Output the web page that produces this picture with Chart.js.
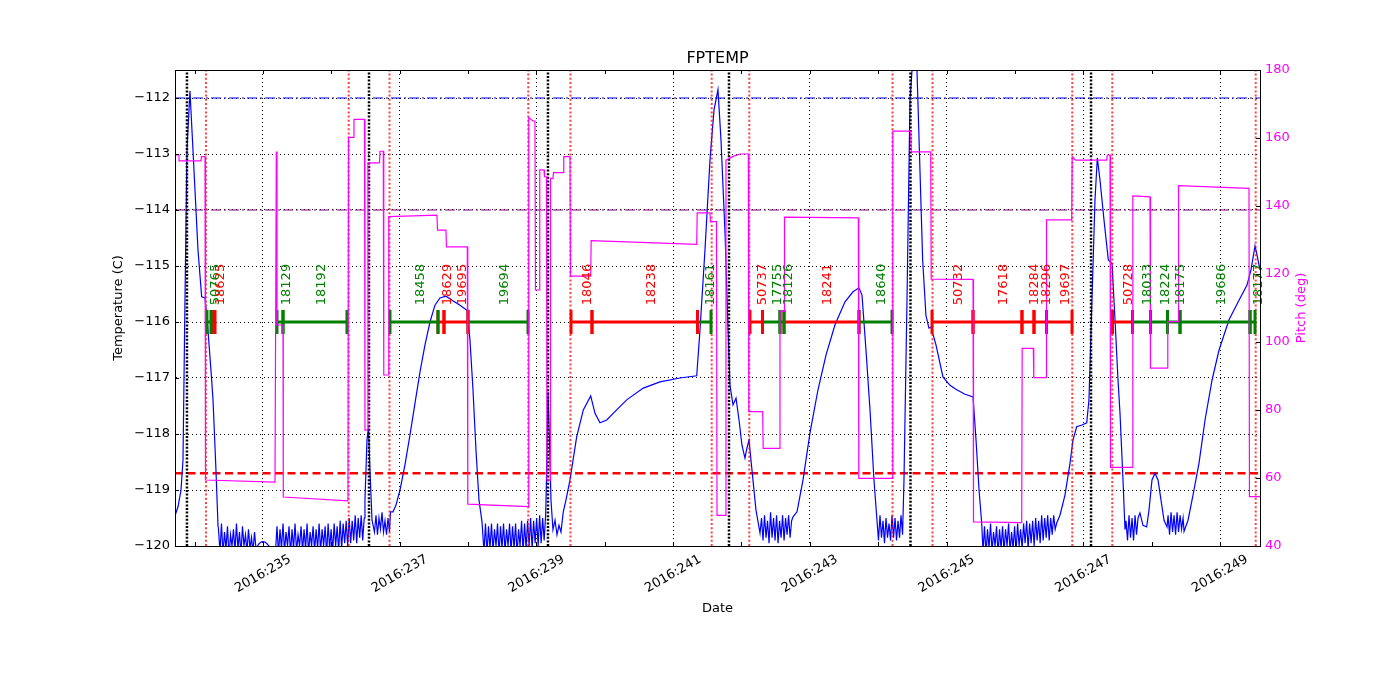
<!DOCTYPE html>
<html>
<head>
<meta charset="utf-8">
<title>FPTEMP</title>
<script src="https://cdn.jsdelivr.net/npm/chart.js@4.4.1/dist/chart.umd.min.js"></script>
<style>
  html, body { margin: 0; padding: 0; background: #fff; }
  canvas { display: block; }
</style>
</head>
<body>
<canvas id="chartCanvas" width="1400" height="700"></canvas>
<script>
// Day-of-year ticks (2016)
const dayTicks = [235, 237, 239, 241, 243, 245, 247, 249];
const dayTickLabels = ["2016:235", "2016:237", "2016:239", "2016:241", "2016:243", "2016:245", "2016:247", "2016:249"];
const minorDayTicks = [234, 235, 236, 237, 238, 239, 240, 241, 242, 243, 244, 245, 246, 247, 248, 249];
const tempTicks = [-120, -119, -118, -117, -116, -115, -114, -113, -112];
const pitchTicks = [40, 60, 80, 100, 120, 140, 160, 180];

// Limits
const tempLimitHigh = -112;
const tempLimitPlan = -114;
const tempLimitLow = -118.7;

// Vertical markers
const blackLineDays = [233.888, 236.551, 239.169, 241.817, 244.472, 247.113];
const redLineDays = [234.166, 236.254, 236.851, 238.881, 239.498, 241.564, 242.114, 244.209, 244.794, 246.839, 247.424, 249.522];

// Observation segments at -116
const segStarts = [234.181, 234.269, 235.205, 235.293, 236.858, 237.560, 237.648, 237.999, 239.506, 239.813, 241.356, 242.124, 242.307, 242.563, 242.622, 243.719, 244.787, 245.387, 246.103, 246.279, 246.462, 247.427, 247.720, 247.983, 248.232, 248.415, 249.439];
const segEnds   = [234.239, 234.298, 235.293, 236.229, 237.560, 237.648, 237.999, 238.877, 239.813, 241.356, 241.554, 242.307, 242.563, 242.622, 243.719, 244.202, 245.387, 246.103, 246.279, 246.462, 246.835, 247.720, 247.983, 248.232, 248.415, 249.439, 249.512];
const segStates = ["G", "R", "G", "G", "G", "R", "R", "G", "R", "R", "G", "R", "G", "G", "R", "G", "R", "R", "R", "R", "R", "R", "G", "G", "G", "G", "G"];
const segLabels = ["50765", "18625", "18129", "18192", "18458", "18629", "19695", "19694", "18046", "18238", "18161", "50737", "17755", "18126", "18241", "18640", "50732", "17618", "18284", "18296", "19697", "50728", "18033", "18224", "18175", "19686", "18177"];

// FPTEMP samples [day, degC]
const tempSamples = [
  [233.713,-119.46],[233.757,-119.30],[233.801,-119.0],[233.830,-118.46],[233.859,-115.61],[233.888,-112.93],
  [233.932,-111.875],[233.976,-112.93],[234.020,-114.0],[234.049,-114.71],[234.103,-115.55],[234.152,-115.57],
  [234.195,-116.14],[234.239,-116.86],[234.269,-117.39],[234.312,-118.64],[234.342,-119.63],
  [234.349,-119.7],[234.371,-120.1],[234.393,-119.6],[234.415,-120.15],[234.437,-119.75],[234.459,-120.05],
  [234.481,-119.65],[234.503,-120.2],[234.525,-119.8],[234.547,-120.0],[234.568,-119.7],[234.590,-120.1],
  [234.612,-119.6],[234.634,-120.05],[234.656,-119.75],[234.678,-120.15],[234.700,-119.65],[234.722,-120.0],
  [234.744,-119.8],[234.766,-120.1],[234.788,-119.7],[234.810,-120.05],[234.832,-119.85],[234.854,-120.1],
  [234.876,-119.75],[234.898,-120.05],
  [234.920,-120.0],[234.942,-119.96],[234.971,-119.93],[235.000,-119.92],[235.029,-119.93],[235.059,-119.96],
  [235.088,-120.0],[235.117,-120.05],[235.146,-120.02],
  [235.183,-120.1],[235.205,-119.65],[235.227,-120.15],[235.249,-119.7],[235.271,-120.05],[235.293,-119.6],
  [235.315,-120.1],[235.337,-119.75],[235.359,-120.0],[235.381,-119.65],[235.403,-120.15],[235.425,-119.7],
  [235.447,-120.05],[235.469,-119.6],[235.491,-120.1],[235.513,-119.8],[235.535,-120.0],[235.557,-119.65],
  [235.579,-120.1],[235.601,-119.7],[235.623,-120.05],[235.645,-119.6],[235.667,-120.15],[235.689,-119.75],
  [235.711,-120.0],[235.733,-119.65],[235.755,-120.1],[235.777,-119.7],[235.799,-120.05],[235.821,-119.6],
  [235.843,-120.1],[235.865,-119.7],[235.887,-120.0],[235.909,-119.65],[235.931,-120.15],[235.953,-119.6],
  [235.975,-120.05],[235.997,-119.7],[236.019,-120.1],[236.041,-119.6],[236.063,-120.0],[236.085,-119.65],
  [236.107,-120.1],[236.129,-119.55],[236.151,-120.05],[236.173,-119.6],[236.195,-119.95],[236.217,-119.55],
  [236.239,-120.0],[236.261,-119.5],[236.283,-119.95],[236.305,-119.55],[236.327,-119.9],[236.349,-119.45],
  [236.371,-119.95],[236.393,-119.5],[236.415,-119.85],[236.437,-119.45],[236.459,-119.9],[236.481,-119.5],
  [236.492,-119.18],[236.521,-118.11],[236.543,-117.89],[236.565,-118.64],[236.595,-119.54],
  [236.631,-119.75],[236.653,-119.45],[236.675,-119.8],[236.697,-119.5],[236.719,-119.7],[236.741,-119.4],
  [236.763,-119.75],[236.785,-119.55],[236.807,-119.8],[236.829,-119.5],[236.851,-119.75],
  [236.865,-119.39],[236.902,-119.39],[236.946,-119.27],[237.004,-119.0],[237.077,-118.55],
  [237.150,-118.02],[237.224,-117.45],[237.297,-116.89],[237.370,-116.41],[237.443,-116.0],[237.516,-115.70],
  [237.589,-115.57],[237.677,-115.54],[237.765,-115.61],[237.882,-115.70],[237.984,-115.79],[238.028,-116.32],
  [238.072,-117.21],[238.116,-118.29],[238.160,-119.18],[238.204,-119.57],
  [238.233,-120.1],[238.255,-119.6],[238.277,-120.15],[238.299,-119.65],[238.321,-120.05],[238.343,-119.6],
  [238.365,-120.1],[238.387,-119.7],[238.409,-120.0],[238.431,-119.6],[238.453,-120.15],[238.475,-119.65],
  [238.497,-120.05],[238.519,-119.6],[238.541,-120.1],[238.563,-119.7],[238.585,-120.0],[238.607,-119.6],
  [238.629,-120.1],[238.651,-119.65],[238.673,-120.05],[238.695,-119.6],[238.717,-120.15],[238.739,-119.7],
  [238.761,-120.0],[238.783,-119.55],[238.805,-120.1],[238.827,-119.6],[238.849,-120.05],[238.871,-119.55],
  [238.893,-120.0],[238.915,-119.5],[238.937,-120.05],[238.959,-119.55],[238.981,-119.95],[239.003,-119.5],
  [239.025,-120.0],[239.047,-119.45],[239.069,-119.95],[239.091,-119.5],[239.113,-119.9],[239.135,-119.45],
  [239.147,-118.82],[239.169,-117.25],[239.191,-118.11],[239.213,-119.18],[239.242,-119.71],
  [239.272,-119.54],[239.301,-119.80],[239.330,-119.63],[239.359,-119.75],[239.393,-119.39],[239.432,-119.18],
  [239.491,-118.82],[239.589,-118.05],[239.686,-117.57],[239.794,-117.32],[239.857,-117.63],[239.930,-117.80],
  [240.028,-117.75],[240.174,-117.57],[240.321,-117.39],[240.563,-117.18],[240.808,-117.07],[241.100,-117.0],
  [241.345,-116.96],[241.393,-116.14],[241.466,-114.71],[241.539,-113.11],[241.598,-112.21],[241.656,-111.85],
  [241.700,-112.75],[241.759,-114.41],[241.803,-116.14],[241.832,-117.13],[241.876,-117.48],[241.920,-117.36],
  [241.964,-117.75],[242.007,-118.20],[242.051,-118.43],[242.080,-118.25],[242.110,-118.11],[242.153,-118.64],
  [242.212,-119.36],[242.271,-119.77],
  [242.293,-119.5],[242.315,-119.9],[242.337,-119.45],[242.359,-119.85],[242.381,-119.55],[242.403,-119.95],
  [242.425,-119.4],[242.447,-119.85],[242.469,-119.5],[242.491,-119.9],[242.513,-119.45],[242.535,-119.95],
  [242.557,-119.55],[242.579,-119.85],[242.601,-119.45],[242.623,-119.9],[242.645,-119.5],[242.667,-119.8],
  [242.689,-119.45],[242.711,-119.85],[242.733,-119.55],
  [242.754,-119.48],[242.812,-119.39],[242.900,-118.82],[243.002,-117.98],[243.119,-117.21],[243.236,-116.59],
  [243.368,-116.05],[243.514,-115.64],[243.631,-115.46],[243.719,-115.39],[243.763,-115.52],[243.821,-116.50],
  [243.880,-117.57],[243.938,-118.82],[243.982,-119.54],
  [244.004,-119.9],[244.026,-119.45],[244.048,-119.85],[244.070,-119.55],[244.092,-119.95],[244.114,-119.5],
  [244.136,-119.85],[244.158,-119.6],[244.180,-119.9],[244.202,-119.45],[244.224,-119.85],[244.246,-119.5],
  [244.268,-119.9],[244.290,-119.55],[244.312,-119.85],[244.334,-119.45],[244.356,-119.8],
  [244.377,-118.82],[244.421,-115.61],[244.465,-112.04],[244.524,-110.96],[244.567,-111.5],[244.650,-114.89],
  [244.698,-115.88],[244.742,-116.11],[244.772,-116.09],[244.845,-116.41],[244.947,-116.98],[245.050,-117.13],
  [245.148,-117.21],[245.270,-117.29],[245.387,-117.34],[245.431,-118.11],[245.475,-119.0],[245.514,-119.59],
  [245.533,-120.1],[245.555,-119.65],[245.577,-120.15],[245.599,-119.7],[245.621,-120.05],[245.643,-119.6],
  [245.665,-120.1],[245.687,-119.75],[245.709,-120.0],[245.731,-119.65],[245.753,-120.15],[245.775,-119.7],
  [245.797,-120.05],[245.819,-119.65],[245.841,-120.1],[245.863,-119.7],[245.885,-120.0],[245.907,-119.6],
  [245.929,-120.1],[245.951,-119.75],[245.973,-120.05],[245.995,-119.65],[246.017,-120.1],[246.039,-119.6],
  [246.061,-120.0],[246.083,-119.7],[246.105,-120.05],[246.127,-119.6],[246.149,-119.95],[246.171,-119.55],
  [246.193,-120.05],[246.215,-119.6],[246.237,-119.95],[246.259,-119.55],[246.281,-120.0],[246.303,-119.5],
  [246.325,-119.9],[246.347,-119.55],[246.369,-119.95],[246.391,-119.45],[246.413,-119.9],[246.435,-119.5],
  [246.457,-119.85],[246.479,-119.45],[246.501,-119.9],[246.523,-119.5],[246.545,-119.8],[246.567,-119.45],
  [246.589,-119.7],
  [246.611,-119.59],[246.659,-119.45],[246.732,-119.09],[246.806,-118.52],[246.849,-118.11],[246.903,-117.87],
  [246.981,-117.84],[247.050,-117.80],[247.083,-117.39],[247.127,-115.61],[247.171,-113.82],[247.205,-113.07],
  [247.244,-113.46],[247.303,-114.18],[247.366,-114.89],[247.420,-114.95],[247.464,-115.96],[247.508,-117.04],
  [247.537,-117.63],[247.581,-118.82],[247.610,-119.71],
  [247.625,-119.55],[247.647,-119.9],[247.669,-119.45],[247.691,-119.85],[247.713,-119.5],[247.735,-119.9],
  [247.757,-119.45],[247.779,-119.8],[247.801,-119.5],
  [247.829,-119.41],[247.873,-119.63],[247.927,-119.66],[247.961,-119.36],[248.005,-118.82],[248.049,-118.70],
  [248.093,-118.82],[248.137,-119.18],[248.181,-119.54],[248.225,-119.66],
  [248.240,-119.45],[248.262,-119.8],[248.284,-119.4],[248.306,-119.75],[248.328,-119.45],[248.350,-119.8],
  [248.372,-119.4],[248.394,-119.75],[248.416,-119.45],[248.438,-119.7],[248.460,-119.5],
  [248.474,-119.74],[248.532,-119.54],[248.605,-119.09],[248.693,-118.52],[248.781,-117.75],[248.883,-117.04],
  [248.986,-116.50],[249.132,-115.96],[249.278,-115.61],[249.395,-115.34],[249.453,-115.07],[249.512,-114.64],
  [249.541,-114.80],[249.585,-115.07]
];

// Pitch samples [day, deg]
const pitchSamples = [
  [233.713,155],[233.771,155],[233.772,153.3],[234.093,153.3],[234.100,154.5],[234.152,154.5],[234.159,59.4],
  [235.176,58.8],[235.195,156.0],[235.205,105.0],[235.293,105.0],[235.297,54.4],[236.243,53.3],[236.251,160.2],
  [236.324,160.2],[236.331,165.5],[236.485,165.5],[236.492,74.1],[236.529,74.1],[236.536,152.7],[236.704,152.7],
  [236.712,156.1],[236.760,156.1],[236.767,90.3],[236.833,90.3],[236.840,136.9],[237.545,137.3],[237.553,132.9],
  [237.677,132.9],[237.684,128.0],[237.989,128.0],[237.996,52.3],[238.881,51.6],[238.888,166.0],[238.950,165.0],
  [238.979,165.0],[238.986,115.3],[239.042,115.3],[239.049,150.6],[239.111,150.6],[239.118,148.6],[239.147,148.6],
  [239.155,59.4],[239.199,59.4],[239.206,148.1],[239.242,148.1],[239.250,149.8],[239.393,149.8],[239.400,154.5],
  [239.491,154.5],[239.498,119.4],[239.794,119.4],[239.801,129.8],[241.345,128.7],[241.352,138.0],[241.539,138.0],
  [241.546,135.4],[241.634,135.4],[241.642,49.0],[241.766,49.0],[241.773,153.5],[241.876,154.6],[241.978,155.3],
  [242.100,155.3],[242.107,79.5],[242.310,79.5],[242.317,68.7],[242.556,68.7],[242.563,109.0],[242.622,109.0],
  [242.629,136.7],[243.709,136.5],[243.716,59.9],[244.206,59.9],[244.213,162.0],[244.475,162.0],[244.483,155.9],
  [244.768,155.9],[244.775,118.5],[245.387,118.4],[245.394,47.1],[246.099,46.9],[246.106,98.1],[246.269,98.1],
  [246.276,89.5],[246.455,89.5],[246.462,135.9],[246.830,135.9],[246.838,154.5],[246.889,153.5],[247.342,153.5],
  [247.351,155.0],[247.391,155.0],[247.398,63.1],[247.717,63.1],[247.725,143.0],[247.976,142.7],[247.983,92.3],
  [248.229,92.3],[248.236,106.0],[248.386,106.0],[248.393,146.0],[249.424,145.2],[249.431,54.5],[249.585,54.5]
];

const xMin = 233.713, xMax = 249.585;
const tempMin = -120, tempMax = -111.5;
const segLevel = -116;
const segLabelBase = -115.7;
const FONT = "'DejaVu Sans', 'Liberation Sans', sans-serif";
const stateColors = { G: "#008000", R: "#ff0000" };

const toPoints = arr => arr.map(p => ({ x: p[0], y: p[1] }));

// Build datasets
const datasets = [];

datasets.push({
    label: "Pitch",
    data: toPoints(pitchSamples),
    yAxisID: "y2",
    borderColor: "#ff00ff",
    borderWidth: 1.2,
    pointRadius: 0,
    order: 0
});

segStarts.forEach((s, i) => {
    const c = stateColors[segStates[i]];
    datasets.push({
        label: segLabels[i],
        data: [{ x: s, y: segLevel }, { x: segEnds[i], y: segLevel }],
        yAxisID: "y",
        borderColor: c,
        borderWidth: 3,
        pointStyle: "line",
        pointRotation: 90,
        pointRadius: 12,
        pointBorderWidth: 3,
        pointBorderColor: c,
        order: 1
    });
});

blackLineDays.forEach(d => {
    datasets.push({
        data: [{ x: d, y: tempMin }, { x: d, y: tempMax }],
        yAxisID: "y",
        borderColor: "#000",
        borderWidth: 2.5,
        borderDash: [2, 1.6],
        pointRadius: 0,
        order: 2
    });
});

redLineDays.forEach(d => {
    datasets.push({
        data: [{ x: d, y: tempMin }, { x: d, y: tempMax }],
        yAxisID: "y",
        borderColor: "rgba(255,0,0,0.75)",
        borderWidth: 2,
        borderDash: [2, 2.2],
        pointRadius: 0,
        order: 2
    });
});

datasets.push({
    label: "FPTEMP",
    data: toPoints(tempSamples),
    yAxisID: "y",
    borderColor: "#0000ff",
    borderWidth: 1.2,
    pointRadius: 0,
    order: 3
});

datasets.push({
    data: [{ x: xMin, y: tempLimitHigh }, { x: xMax, y: tempLimitHigh }],
    yAxisID: "y", borderColor: "#0000ff", borderWidth: 1.2,
    borderDash: [10, 3, 2, 3], pointRadius: 0, order: 4
});
datasets.push({
    data: [{ x: xMin, y: tempLimitPlan }, { x: xMax, y: tempLimitPlan }],
    yAxisID: "y", borderColor: "#800080", borderWidth: 1.2,
    borderDash: [10, 3, 2, 3], pointRadius: 0, order: 4
});
datasets.push({
    data: [{ x: xMin, y: tempLimitLow }, { x: xMax, y: tempLimitLow }],
    yAxisID: "y", borderColor: "#ff0000", borderWidth: 2.5,
    borderDash: [8, 4.5], pointRadius: 0, order: 4
});

// Extra drawing: title, axis titles, rotated date labels, segment labels, frame, inward ticks
const decorations = {
    id: "decorations",
    afterDatasetsDraw(chart) {
        const { ctx, scales } = chart;
        const xs = scales.x, ys = scales.y;
        ctx.save();
        ctx.font = "13px " + FONT;
        ctx.textAlign = "left";
        ctx.textBaseline = "top";
        segLabels.forEach((lab, i) => {
            const px = xs.getPixelForValue((segStarts[i] + segEnds[i]) / 2);
            const py = ys.getPixelForValue(segLabelBase);
            ctx.save();
            ctx.translate(px, py);
            ctx.rotate(-Math.PI / 2);
            ctx.fillStyle = stateColors[segStates[i]];
            ctx.fillText(lab, 0, 0);
            ctx.restore();
        });
        ctx.restore();
    },
    afterDraw(chart) {
        const { ctx, chartArea: a, scales } = chart;
        const xs = scales.x, ys = scales.y, y2 = scales.y2;
        ctx.save();
        // frame
        ctx.strokeStyle = "#000";
        ctx.lineWidth = 1;
        ctx.strokeRect(a.left + 0.5, a.top + 0.5, a.right - a.left, a.bottom - a.top);
        // inward ticks
        ctx.beginPath();
        minorDayTicks.forEach(d => {
            const px = Math.round(xs.getPixelForValue(d)) + 0.5;
            ctx.moveTo(px, a.bottom); ctx.lineTo(px, a.bottom - 4);
            ctx.moveTo(px, a.top); ctx.lineTo(px, a.top + 4);
        });
        tempTicks.forEach(t => {
            const py = Math.round(ys.getPixelForValue(t)) + 0.5;
            ctx.moveTo(a.left, py); ctx.lineTo(a.left + 4, py);
        });
        pitchTicks.forEach(p => {
            const py = Math.round(y2.getPixelForValue(p)) + 0.5;
            ctx.moveTo(a.right, py); ctx.lineTo(a.right - 4, py);
        });
        ctx.stroke();

        // rotated date labels
        ctx.fillStyle = "#000";
        ctx.font = "13px " + FONT;
        ctx.textAlign = "center";
        ctx.textBaseline = "middle";
        dayTicks.forEach((d, i) => {
            const px = xs.getPixelForValue(d);
            ctx.save();
            ctx.translate(px, a.bottom + 28);
            ctx.rotate(-Math.PI / 6);
            ctx.fillText(dayTickLabels[i], 0, 0);
            ctx.restore();
        });

        // titles
        const cx = (a.left + a.right) / 2;
        ctx.font = "16px " + FONT;
        ctx.textBaseline = "alphabetic";
        ctx.fillText("FPTEMP", cx, a.top - 7);
        ctx.font = "13px " + FONT;
        ctx.textBaseline = "middle";
        ctx.fillText("Date", cx, a.bottom + 63);
        const cy = (a.top + a.bottom) / 2;
        ctx.save();
        ctx.translate(a.left - 56, cy);
        ctx.rotate(-Math.PI / 2);
        ctx.fillText("Temperature (C)", 0, 0);
        ctx.restore();
        ctx.save();
        ctx.translate(a.right + 42, cy);
        ctx.rotate(-Math.PI / 2);
        ctx.fillStyle = "#ff00ff";
        ctx.fillText("Pitch (deg)", 0, 0);
        ctx.restore();
        ctx.restore();
    }
};

const ctx = document.getElementById("chartCanvas").getContext("2d");
new Chart(ctx, {
    type: "line",
    data: { datasets: datasets },
    options: {
        responsive: false,
        animation: false,
        events: [],
        devicePixelRatio: 1,
        layout: { padding: { top: 70, left: 0, right: 0, bottom: 0 } },
        plugins: { legend: { display: false }, tooltip: { enabled: false }, title: { display: false } },
        scales: {
            x: {
                type: "linear",
                min: xMin,
                max: xMax,
                afterBuildTicks: s => { s.ticks = dayTicks.map(v => ({ value: v })); },
                ticks: { display: false },
                grid: { color: "#000", lineWidth: 1, drawTicks: false },
                border: { display: true, color: "#000", width: 1, dash: [1, 3] },
                afterFit: s => { s.height = 154; }
            },
            y: {
                type: "linear",
                position: "left",
                min: tempMin,
                max: tempMax,
                afterBuildTicks: s => { s.ticks = tempTicks.map(v => ({ value: v })); },
                ticks: {
                    color: "#000",
                    padding: 5,
                    font: { family: FONT, size: 13 },
                    callback: v => String(v).replace("-", "\u2212")
                },
                grid: { color: "#000", lineWidth: 1, drawTicks: false },
                border: { display: true, color: "#000", width: 1, dash: [1, 3] },
                afterFit: s => { s.width = 175; }
            },
            y2: {
                type: "linear",
                position: "right",
                min: 40,
                max: 180,
                afterBuildTicks: s => { s.ticks = pitchTicks.map(v => ({ value: v })); },
                ticks: { color: "#ff00ff", padding: 5, font: { family: FONT, size: 13 } },
                grid: { display: false, drawTicks: false },
                border: { display: true, color: "#000", width: 1 },
                afterFit: s => { s.width = 140; }
            }
        }
    },
    plugins: [decorations]
});
</script>
</body>
</html>
